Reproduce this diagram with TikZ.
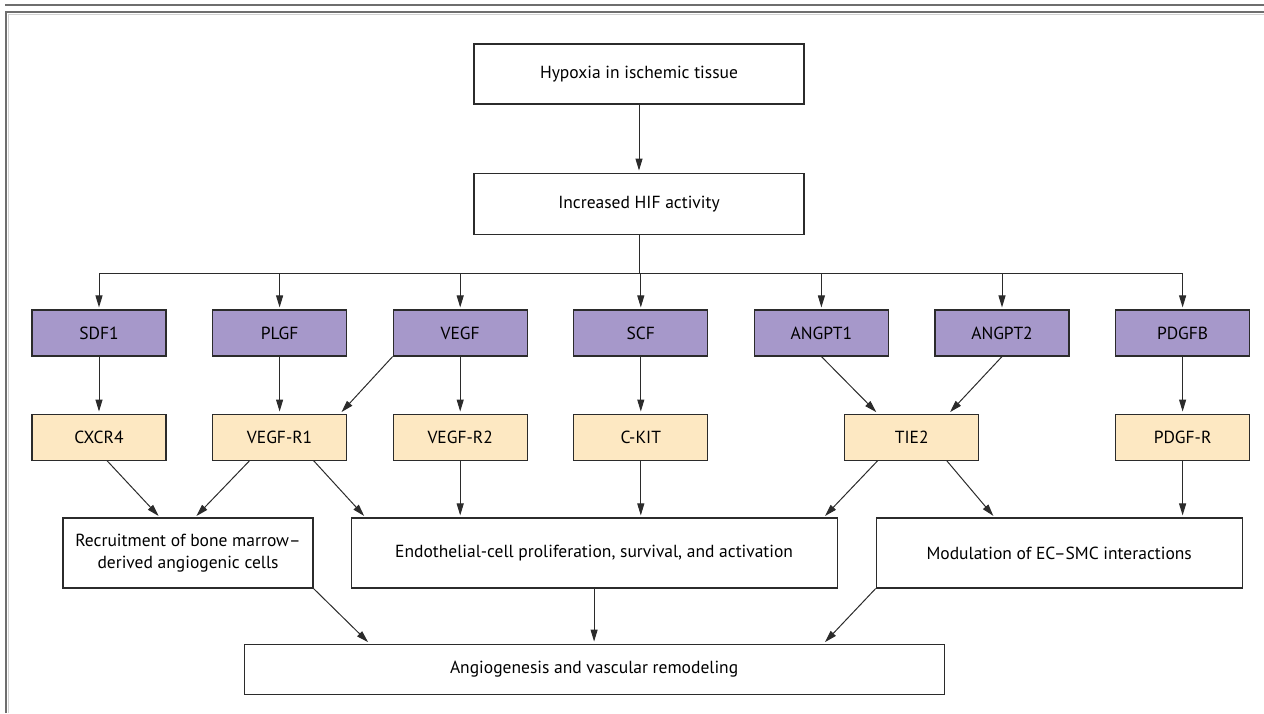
\documentclass[tikz,border=0pt]{standalone}
\usepackage{fontspec}
\setmainfont{PT Sans}
\usetikzlibrary{positioning,arrows.meta,calc}
\definecolor{gfpurple}{HTML}{A698CA}
\definecolor{rcyellow}{HTML}{FDE8C2}
\definecolor{edgegray}{HTML}{2B2B2B}
\definecolor{framegray}{HTML}{6E6E6E}

\begin{document}
\begin{tikzpicture}[
          x=1pt, y=-1pt,
          font=\fontsize{17.5}{21.5}\selectfont,
          node distance=57pt and 45.5pt,
          box/.style={draw=edgegray,line width=1.1pt,minimum height=46pt,minimum width=134pt,inner sep=0pt,align=center},
          gf/.style={box,fill=gfpurple},
          rc/.style={box,fill=rcyellow},
          wb/.style={box,fill=white},
          arr/.style={draw=edgegray,line width=1pt,-{Triangle[length=12pt,width=7pt]},shorten >=2pt}
            ]
    \useasboundingbox (0,0) rectangle (1264,713);
    % frame
    \draw[framegray,line width=1.5pt] (5,5) -- (1264,5);
    \draw[framegray,line width=1.5pt] (6,713) |- (1264,12);
    \draw[gray!35,line width=1pt] (8.5,713) |- (1264,14.5);

    \node[wb,minimum width=330pt,minimum height=60pt] (hyp) at (639,74) {Hypoxia in ischemic tissue};
    \node[wb,minimum width=330pt,minimum height=61pt,below=68pt of hyp] (hif) {Increased HIF activity};

    % growth factors
    \node[gf] (sdf) at (99,333) {SDF1};
    \node[gf,right=of sdf] (plgf) {PLGF};
    \node[gf,right=of plgf] (vegf) {VEGF};
    \node[gf,right=of vegf] (scf) {SCF};
    \node[gf,right=of scf] (ang1) {ANGPT1};
    \node[gf,right=of ang1] (ang2) {ANGPT2};
    \node[gf,right=of ang2] (pdgfb) {PDGFB};

    % receptors
    \node[rc,below=of sdf] (cxcr) {CXCR4};
    \node[rc,below=of plgf] (vr1) {VEGF-R1};
    \node[rc,below=of vegf] (vr2) {VEGF-R2};
    \node[rc,below=of scf] (ckit) {C-KIT};
    \coordinate (angmid) at ($(ang1.south)!.5!(ang2.south)$);
    \node[rc,below=57pt of angmid] (tie) {TIE2};
    \node[rc,below=of pdgfb] (pdgfr) {PDGF-R};

    % effects
    \node[wb,minimum width=250pt,minimum height=70pt] (rec) at (188,553) {Recruitment of bone marrow–\\derived angiogenic cells};
    \node[wb,minimum width=486pt,minimum height=70pt,right=37pt of rec] (endo) {Endothelial-cell proliferation, survival, and activation};
    \node[wb,minimum width=366pt,minimum height=70pt,right=38pt of endo] (mod) {Modulation of EC–SMC interactions};
    \node[wb,minimum width=700pt,minimum height=50pt,below=55pt of endo] (ang) {Angiogenesis and vascular remodeling};

    % hif to factors
    \path (hyp) edge[arr] (hif);
    \draw[edgegray,line width=1pt] (hif.south) -- ++(0,39) coordinate (bus);
    \draw[edgegray,line width=1pt] (sdf.north |- bus) -- (pdgfb.north |- bus);
    \foreach \n in {sdf,plgf,vegf,scf,ang1,ang2,pdgfb}
      \path (\n.north |- bus) edge[arr] (\n);

    % factors to receptors
    \path (sdf) edge[arr] (cxcr)
    (plgf) edge[arr] (vr1)
    (vegf.south west) edge[arr] ([xshift=-7pt]vr1.north east)
    (vegf) edge[arr] (vr2)
    (scf) edge[arr] (ckit)
    (ang1.south) edge[arr] ([xshift=-34pt]tie.north)
    (ang2.south) edge[arr] ([xshift=37pt]tie.north)
    (pdgfb) edge[arr] (pdgfr);

    % receptors to effects
    \path ([xshift=8pt]cxcr.south) edge[arr] ([xshift=-28pt]rec.north)
    ([xshift=-30pt]vr1.south) edge[arr] ([xshift=7pt]rec.north)
    ([xshift=34pt]vr1.south) edge[arr] ([xshift=15pt]endo.north west)
    (vr2) edge[arr] (vr2 |- endo.north)
    (ckit) edge[arr] (ckit |- endo.north)
    ([xshift=-34pt]tie.south) edge[arr] ([xshift=-14pt]endo.north east)
    ([xshift=35pt]tie.south) edge[arr] ([xshift=119pt]mod.north west)
    (pdgfr) edge[arr] (pdgfr |- mod.north);

    % effects to outcome
    \path (rec.south east) edge[arr] ([xshift=126pt]ang.north west)
    (endo) edge[arr] (ang)
    (mod.south west) edge[arr] ([xshift=-121pt]ang.north east);
\end{tikzpicture}
\end{document}
